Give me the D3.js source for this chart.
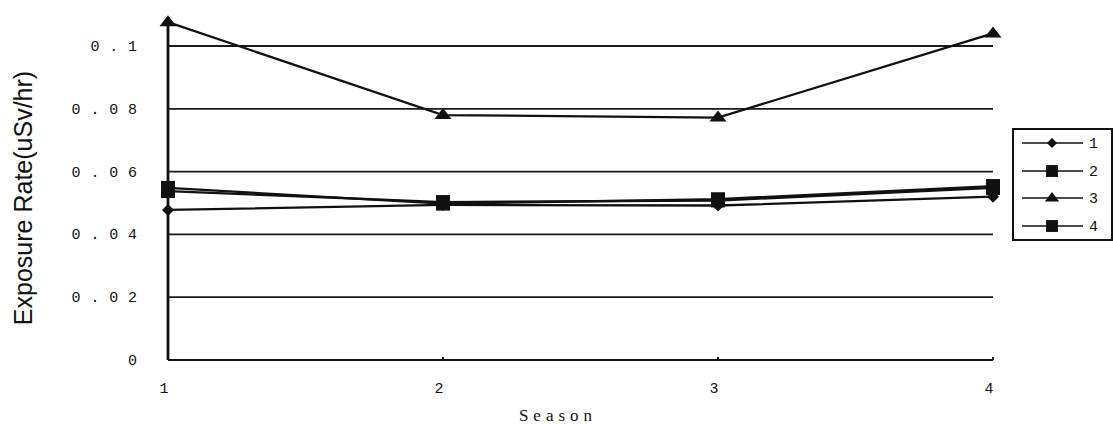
<!DOCTYPE html>
<html><head><meta charset="utf-8">
<script src="https://cdn.jsdelivr.net/npm/d3@7"></script>
<style>body{margin:0;background:#fff;}svg{display:block;}</style>
</head><body>
<svg id="c" width="1113" height="429"></svg>
<script>
const seasons = [1, 2, 3, 4];
const series1 = [0.0478, 0.0494, 0.0492, 0.0520];
const series2 = [0.0538, 0.0503, 0.0508, 0.0548];
const series3 = [0.1076, 0.0780, 0.0772, 0.1040];
const series4 = [0.0548, 0.0498, 0.0512, 0.0554];
const seriesNames = ["1", "2", "3", "4"];
const seriesMarkers = ["diamond", "square", "triangle", "square"];
const yTicks = [0, 0.02, 0.04, 0.06, 0.08, 0.1];
const yTickLabels = ["0", "0.02", "0.04", "0.06", "0.08", "0.1"];
const xTitle = "Season";
const yTitle = "Exposure Rate(uSv/hr)";

const svg = d3.select("#c");
const x = d3.scaleLinear().domain([1, 4]).range([168, 993]);
const y = d3.scaleLinear().domain([0, 0.1]).range([360, 46]);
const allSeries = [series1, series2, series3, series4];

// grid lines
svg.append("g").selectAll("line").data(yTicks.slice(1)).join("line")
  .attr("x1", x(1)).attr("x2", x(4)).attr("y1", d => y(d)).attr("y2", d => y(d))
  .attr("stroke", "#1a1a1a").attr("stroke-width", 1.8);

// axes lines
svg.append("line").attr("x1", x(1)).attr("x2", x(4)).attr("y1", y(0)).attr("y2", y(0))
  .attr("stroke", "#111").attr("stroke-width", 2.2);
svg.append("line").attr("x1", x(1)).attr("x2", x(1)).attr("y1", y(0)).attr("y2", y(0.108))
  .attr("stroke", "#111").attr("stroke-width", 2.8);

// y tick labels
const ls = 9.8;
svg.append("g").selectAll("text").data(yTicks).join("text")
  .attr("x", 137 + ls).attr("y", d => y(d) + 5)
  .attr("text-anchor", "end")
  .attr("font-family", "Liberation Mono, Courier New, monospace")
  .attr("font-size", 15).attr("letter-spacing", ls).attr("fill", "#111")
  .text((d, i) => yTickLabels[i]);

// x tick labels
svg.append("g").selectAll("text").data(seasons).join("text")
  .attr("x", d => x(d) - 4).attr("y", 393)
  .attr("text-anchor", "middle")
  .attr("font-family", "Liberation Mono, Courier New, monospace")
  .attr("font-size", 15).attr("fill", "#111")
  .text(d => d);

// small ticks on x axis
svg.append("g").selectAll("line").data(seasons.slice(1)).join("line")
  .attr("x1", d => x(d)).attr("x2", d => x(d)).attr("y1", y(0) - 3).attr("y2", y(0))
  .attr("stroke", "#111").attr("stroke-width", 2);

// titles
svg.append("text").attr("x", 558).attr("y", 421).attr("text-anchor", "middle")
  .attr("font-family", "Liberation Serif, Times New Roman, serif").attr("font-size", 17)
  .attr("letter-spacing", 5).attr("fill", "#111").text(xTitle);
svg.append("text").attr("transform", "translate(32,198) rotate(-90)").attr("text-anchor", "middle")
  .attr("font-family", "Liberation Sans, Arial, sans-serif").attr("font-size", 25)
  .attr("fill", "#111").text(yTitle);

const line = d3.line().x((d, i) => x(seasons[i])).y(d => y(d));
function markerPath(type) {
  if (type === "diamond") return "M0,-6L6,0L0,6L-6,0Z";
  if (type === "square") return "M-7,-7H7V7H-7Z";
  return "M0,-7L8.5,4H-8.5Z";
}

allSeries.forEach((s, k) => {
  svg.append("path").datum(s).attr("d", line).attr("fill", "none")
    .attr("stroke", "#111").attr("stroke-width", 2.3);
  svg.append("g").selectAll("path").data(s).join("path")
    .attr("transform", (d, i) => `translate(${x(seasons[i])},${y(d)})`)
    .attr("d", markerPath(seriesMarkers[k])).attr("fill", "#111");
});

// legend
const lg = svg.append("g");
lg.append("rect").attr("x", 1013).attr("y", 129).attr("width", 99).attr("height", 111)
  .attr("fill", "#fff").attr("stroke", "#111").attr("stroke-width", 2);
const legY = [143, 171, 198, 226];
seriesNames.forEach((n, k) => {
  lg.append("line").attr("x1", 1022).attr("x2", 1083).attr("y1", legY[k]).attr("y2", legY[k])
    .attr("stroke", "#111").attr("stroke-width", 1.6);
  lg.append("path").attr("transform", `translate(1052,${legY[k]}) scale(0.85)`)
    .attr("d", markerPath(seriesMarkers[k])).attr("fill", "#111");
  lg.append("text").attr("x", 1089).attr("y", legY[k] + 5)
    .attr("font-family", "Liberation Mono, Courier New, monospace").attr("font-size", 15)
    .attr("fill", "#111").text(n);
});
</script>
</body></html>
